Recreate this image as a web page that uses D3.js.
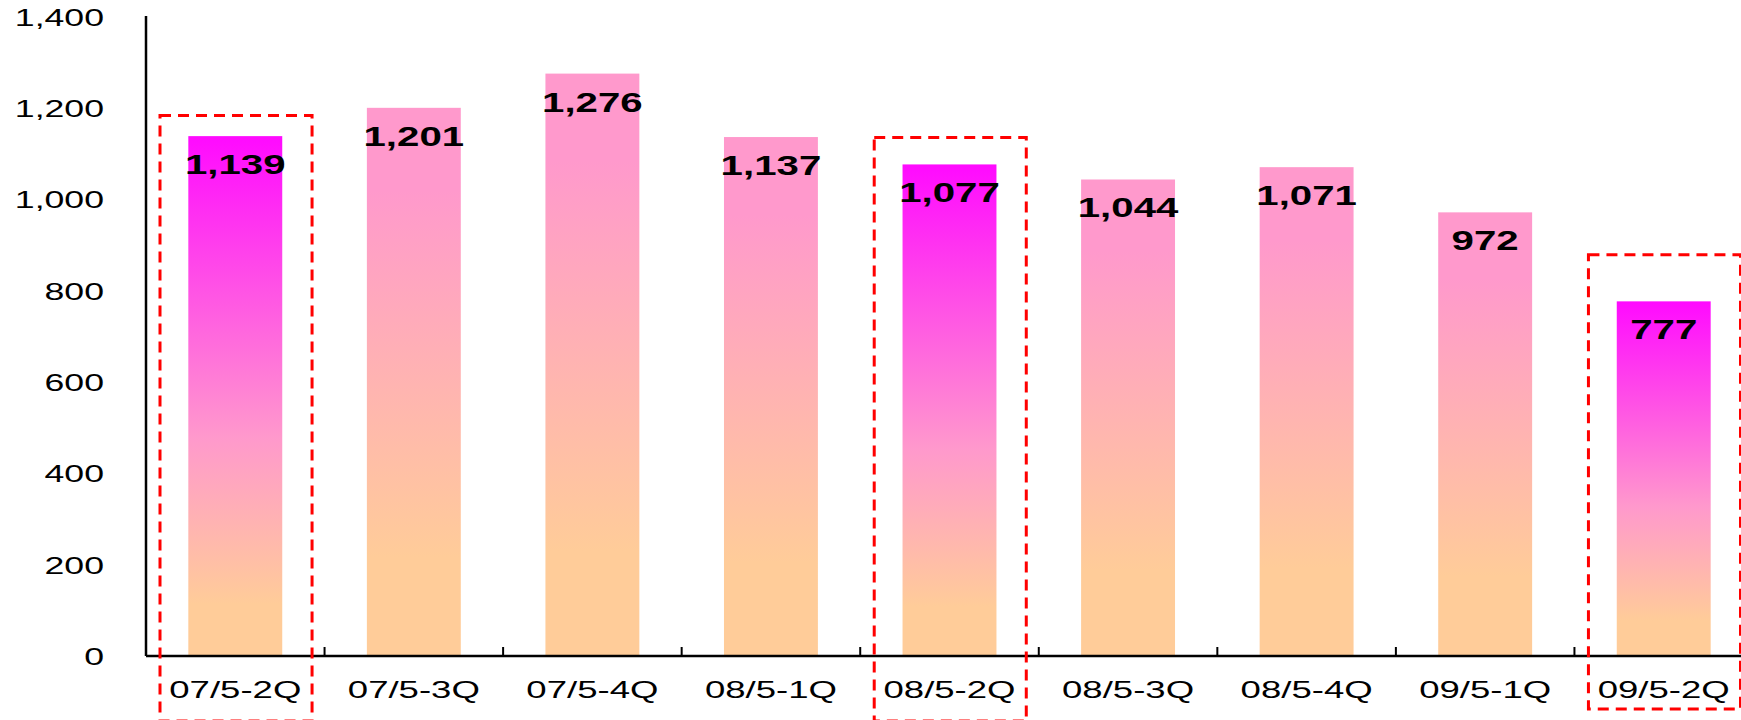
<!DOCTYPE html>
<html>
<head>
<meta charset="utf-8">
<script src="https://cdn.jsdelivr.net/npm/d3@7"></script>
<style>
  html, body { margin: 0; padding: 0; background: #fff; }
  svg { display: block; }
  text { font-family: "Liberation Sans", Arial, sans-serif; }
</style>
</head>
<body>
<svg id="chart" width="1741" height="720"></svg>
<script>
// ---- data ----
const categories = ["07/5-2Q","07/5-3Q","07/5-4Q","08/5-1Q","08/5-2Q","08/5-3Q","08/5-4Q","09/5-1Q","09/5-2Q"];
const values = [1139, 1201, 1276, 1137, 1077, 1044, 1071, 972, 777];
const highlighted = ["07/5-2Q", "08/5-2Q", "09/5-2Q"];
const yTicks = [0, 200, 400, 600, 800, 1000, 1200, 1400];
// dashed highlight boxes: top edge given as a y value
const boxTops = [1184, 1136, 879];

const data = categories.map((c, i) => ({ cat: c, value: values[i], hi: highlighted.includes(c) }));

// ---- layout ----
const svg = d3.select("#chart");
const plotL = 146, plotR = 1753, plotB = 656, plotT = 17;

const x = d3.scaleBand().domain(categories).range([plotL, plotR])
  .paddingInner(0.474).paddingOuter(0.237);
const y = d3.scaleLinear().domain([0, 1400]).range([plotB, plotT]);

// gradients
const defs = svg.append("defs");
const gN = defs.append("linearGradient").attr("id", "gNormal")
  .attr("x1", 0).attr("y1", 0).attr("x2", 0).attr("y2", 1);
[[0, "#ff99cc"], [0.15, "#ff99cc"], [0.82, "#ffcc99"], [1, "#ffcc99"]]
  .forEach(([o, c]) => gN.append("stop").attr("offset", o).attr("stop-color", c));
const gH = defs.append("linearGradient").attr("id", "gHi")
  .attr("x1", 0).attr("y1", 0).attr("x2", 0).attr("y2", 1);
[[0, "#ff0aff"], [0.58, "#ff99cc"], [0.9, "#ffcc99"], [1, "#ffcc99"]]
  .forEach(([o, c]) => gH.append("stop").attr("offset", o).attr("stop-color", c));

// bars
svg.append("g").selectAll("rect").data(data).join("rect")
  .attr("x", d => x(d.cat))
  .attr("y", d => y(d.value))
  .attr("width", x.bandwidth())
  .attr("height", d => y(0) - y(d.value))
  .attr("fill", d => d.hi ? "url(#gHi)" : "url(#gNormal)");

// data labels
svg.append("g").selectAll("text").data(data).join("text")
  .attr("transform", d => `translate(${x(d.cat) + x.bandwidth() / 2},${y(d.value) + 38}) scale(1.49,1)`)
  .attr("text-anchor", "middle")
  .attr("font-size", 27)
  .attr("font-weight", "bold")
  .attr("fill", "#000")
  .text(d => d3.format(",")(d.value));

// y axis
const yAxis = svg.append("g").attr("transform", `translate(${plotL},0)`)
  .call(d3.axisLeft(y).tickValues(yTicks).tickSize(0).tickFormat(d3.format(",")));
yAxis.select(".domain").attr("stroke", "#000").attr("stroke-width", 2.5).attr("d", `M0,${plotT - 1}V${plotB}`);
yAxis.selectAll(".tick text")
  .attr("x", null).attr("dy", "0.36em")
  .attr("transform", "translate(-42,0) scale(1.55,1)")
  .attr("font-size", 23).attr("font-family", null).attr("fill", "#000");

// x axis
const xAxis = svg.append("g").attr("transform", `translate(0,${plotB})`)
  .call(d3.axisBottom(x).tickSize(0));
xAxis.select(".domain").attr("stroke", "#000").attr("stroke-width", 2.5).attr("d", `M${plotL},0H${plotR}`);
xAxis.selectAll(".tick text")
  .attr("y", null).attr("dy", null)
  .attr("transform", "translate(0,42) scale(1.59,1)")
  .attr("font-size", 23).attr("font-family", null).attr("fill", "#000");

// category boundary ticks (pointing up)
const bounds = d3.range(1, categories.length).map(i => plotL + i * x.step());
svg.append("g").selectAll("line").data(bounds).join("line")
  .attr("x1", d => d).attr("x2", d => d)
  .attr("y1", plotB - 9).attr("y2", plotB)
  .attr("stroke", "#000").attr("stroke-width", 2);

// dashed highlight boxes
const hiData = data.filter(d => d.hi);
svg.append("g").selectAll("rect").data(hiData).join("rect")
  .attr("x", d => x(d.cat) - x.step() * 0.237 + 14)
  .attr("y", (d, i) => y(boxTops[i]))
  .attr("width", x.step() - 26.5)
  .attr("height", (d, i) => (i === 2 ? 709 : 721) - y(boxTops[i]))
  .attr("fill", "none")
  .attr("stroke", "#ff0000")
  .attr("stroke-width", 3)
  .attr("stroke-dasharray", "11,7");
</script>
</body>
</html>
